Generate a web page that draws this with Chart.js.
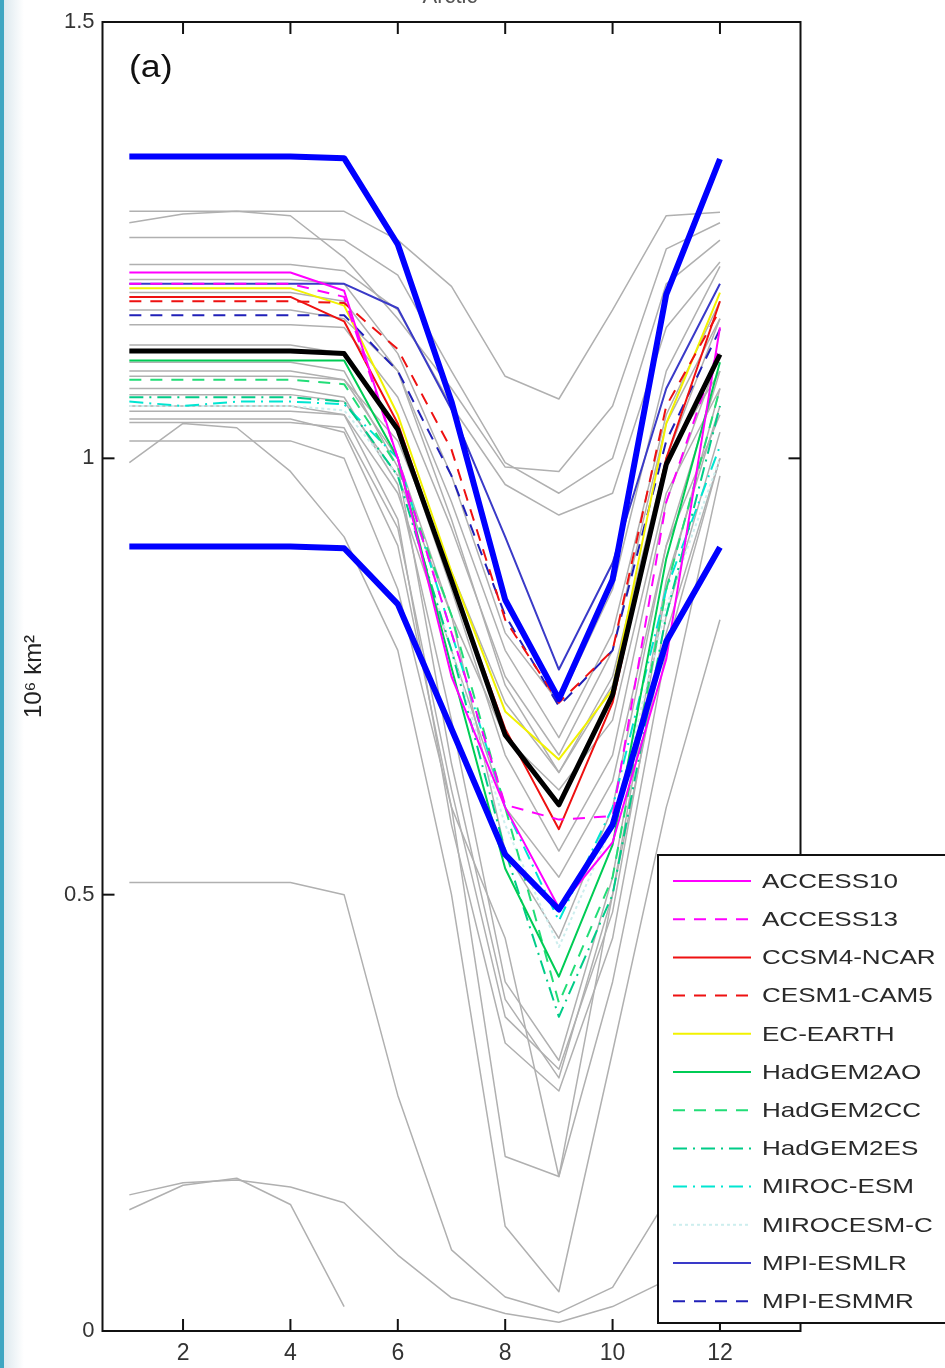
<!DOCTYPE html>
<html><head><meta charset="utf-8">
<script src="https://cdn.jsdelivr.net/npm/chart.js@4.4.1/dist/chart.umd.min.js"></script>
<style>
html,body{margin:0;padding:0;background:#fff;}
#wrap{position:relative;width:945px;height:1368px;overflow:hidden;background:#fff;}
#shade{position:absolute;left:4px;top:0;width:20px;height:1368px;background:linear-gradient(to right,#dde9ef,#ffffff);}
#strip{position:absolute;left:0;top:0;width:4px;height:1368px;background:#3fa6c2;}
canvas{position:absolute;left:0;top:0;}
</style></head><body>
<div id="wrap"><div id="shade"></div><canvas id="c" width="945" height="1368"></canvas><div id="strip"></div></div>
<script>
// ---------- DATA ----------
const months = [1,2,3,4,5,6,7,8,9,10,11,12];
const xTickValues = [2,4,6,8,10,12];
const yTickValues = [0,0.5,1,1.5];
const yTickLabels = ['0','0.5','1','1.5'];

const modelNames = ['ACCESS10','ACCESS13','CCSM4-NCAR','CESM1-CAM5','EC-EARTH','HadGEM2AO',
  'HadGEM2CC','HadGEM2ES','MIROC-ESM','MIROCESM-C','MPI-ESMLR','MPI-ESMMR'];

const access10  = [1.213,1.213,1.213,1.213,1.192,1.00,0.75,0.60,0.485,0.56,0.77,1.15];
const access13  = [1.200,1.200,1.200,1.200,1.185,1.00,0.80,0.603,0.586,0.59,0.95,1.13];
const ccsm4     = [1.185,1.185,1.185,1.185,1.157,1.04,0.86,0.69,0.575,0.72,1.00,1.18];
const cesm1     = [1.180,1.180,1.180,1.180,1.178,1.125,1.01,0.815,0.72,0.78,1.06,1.17];
const ecEarth   = [1.195,1.195,1.195,1.195,1.175,1.05,0.87,0.71,0.655,0.735,1.04,1.19];
const hadgemAO  = [1.112,1.112,1.112,1.112,1.112,1.00,0.76,0.53,0.406,0.557,0.885,1.11];
const hadgemCC  = [1.090,1.090,1.090,1.090,1.085,0.99,0.82,0.60,0.376,0.52,0.85,1.08];
const hadgemES  = [1.070,1.070,1.070,1.070,1.065,0.98,0.78,0.55,0.36,0.50,0.82,1.06];
const mirocEsm  = [1.065,1.060,1.065,1.065,1.062,1.00,0.80,0.60,0.47,0.60,0.85,1.014];
const mirocEsmC = [1.060,1.060,1.060,1.060,1.055,0.98,0.78,0.58,0.44,0.58,0.83,1.00];
const mpiLR     = [1.200,1.200,1.200,1.200,1.200,1.172,1.056,0.91,0.758,0.88,1.08,1.20];
const mpiMR     = [1.164,1.164,1.164,1.164,1.164,1.10,0.98,0.82,0.716,0.78,1.02,1.148];

const ensembleMean = [1.123,1.123,1.123,1.123,1.12,1.033,0.86,0.683,0.603,0.729,0.993,1.119];
const meanPlusStd  = [1.346,1.346,1.346,1.346,1.344,1.245,1.065,0.838,0.724,0.861,1.188,1.343];
const meanMinusStd = [0.899,0.899,0.899,0.899,0.897,0.833,0.69,0.546,0.483,0.58,0.79,0.898];

const gray01 = [1.283,1.283,1.283,1.283,1.283,1.25,1.197,1.094,1.068,1.17,1.278,1.282];
const gray02 = [1.27,1.28,1.283,1.278,1.23,1.16,1.08,0.99,0.985,1.06,1.24,1.27];
const gray03 = [1.253,1.253,1.253,1.253,1.25,1.21,1.10,0.995,0.96,1.00,1.20,1.25];
const gray04 = [1.222,1.222,1.222,1.222,1.215,1.17,1.06,0.97,0.935,0.96,1.15,1.225];
const gray05 = [1.205,1.205,1.205,1.205,1.20,1.12,0.98,0.80,0.72,0.85,1.10,1.22];
const gray06 = [1.153,1.153,1.153,1.153,1.15,1.07,0.92,0.75,0.66,0.78,1.04,1.16];
const gray07 = [1.094,1.094,1.094,1.094,1.09,1.02,0.87,0.72,0.64,0.74,1.00,1.10];
const gray08 = [1.073,1.073,1.073,1.073,1.065,0.98,0.82,0.68,0.62,0.70,0.96,1.08];
const gray09 = [1.054,1.054,1.054,1.054,1.05,0.96,0.78,0.60,0.52,0.63,0.90,1.05];
const gray10 = [1.13,1.13,1.13,1.13,1.12,1.03,0.85,0.66,0.55,0.66,0.95,1.12];
const gray11 = [0.995,1.04,1.035,0.985,0.91,0.78,0.50,0.12,0.045,0.32,0.60,0.815];
const gray12 = [0.514,0.514,0.514,0.514,0.50,0.27,0.093,0.039,0.021,0.05,0.15,0.30];
const gray13 = [0.156,0.17,0.173,0.165,0.147,0.087,0.038,0.02,0.01,0.028,0.058,0.10];
const gray14 = [0.139,0.167,0.175,0.145,0.028,null,null,null,null,null,null,null];
const gray15 = [1.041,1.041,1.041,1.041,1.035,0.92,0.62,0.36,0.30,0.48,0.82,1.03];
const gray16 = [1.11,1.11,1.11,1.11,1.10,0.99,0.65,0.38,0.29,0.50,0.85,1.08];
const gray17 = [1.06,1.06,1.06,1.06,1.05,0.93,0.58,0.33,0.275,0.45,0.78,1.00];
const gray18 = [1.045,1.045,1.045,1.045,1.03,0.90,0.60,0.20,0.177,0.40,0.70,0.98];
const gray19 = [1.02,1.02,1.02,1.02,1.00,0.85,0.60,0.45,0.177,0.50,0.80,1.00];
const gray20 = [1.19,1.19,1.19,1.19,1.18,1.10,0.93,0.74,0.64,0.75,1.00,1.16];
const gray21 = [1.17,1.17,1.17,1.17,1.16,1.10,0.95,0.78,0.68,0.80,1.05,1.18];
const gray22 = [1.10,1.10,1.10,1.10,1.09,1.00,0.82,0.55,0.45,0.60,0.90,1.10];
const gray23 = [1.08,1.08,1.08,1.08,1.07,0.97,0.70,0.40,0.31,0.52,0.86,1.06];

const modelSeries = [access10,access13,ccsm4,cesm1,ecEarth,hadgemAO,hadgemCC,hadgemES,mirocEsm,mirocEsmC,mpiLR,mpiMR];
const otherSeries = [gray01,gray02,gray03,gray04,gray05,gray06,gray07,gray08,gray09,gray10,gray11,
  gray12,gray13,gray14,gray15,gray16,gray17,gray18,gray19,gray20,gray21,gray22,gray23];

// ---------- STYLES ----------
const modelStyles = [
  {color:'#ff00ff', dash:[]},
  {color:'#ff00ff', dash:[12,9]},
  {color:'#ee1111', dash:[]},
  {color:'#ee1111', dash:[12,9]},
  {color:'#f2f200', dash:[]},
  {color:'#00cc55', dash:[]},
  {color:'#22dd77', dash:[12,9]},
  {color:'#00cc88', dash:[14,6,2,6]},
  {color:'#00e6d2', dash:[14,6,2,6]},
  {color:'#cdeeee', dash:[3,3]},
  {color:'#3a3ac8', dash:[]},
  {color:'#2020b8', dash:[12,9]}
];

const toXY = vals => months.map((m,i)=>({x:m, y:vals[i]}));
const common = {pointRadius:0, tension:0, fill:false, borderJoinStyle:'round', spanGaps:false};
const datasets = [];
datasets.push(Object.assign({label:'Mean + std', data:toXY(meanPlusStd), borderColor:'#0000ff', borderWidth:6}, common));
datasets.push(Object.assign({label:'Mean - std', data:toXY(meanMinusStd), borderColor:'#0000ff', borderWidth:6}, common));
datasets.push(Object.assign({label:'Multi-model mean', data:toXY(ensembleMean), borderColor:'#000000', borderWidth:5}, common));
modelSeries.forEach((vals,i)=>datasets.push(Object.assign({label:modelNames[i], data:toXY(vals),
  borderColor:modelStyles[i].color, borderDash:modelStyles[i].dash, borderWidth:2, inLegend:true}, common)));
otherSeries.forEach((vals,i)=>datasets.push(Object.assign({label:'Other model '+(i+1), data:toXY(vals),
  borderColor:'#b0b0b0', borderWidth:1.5}, common)));

const FONT = "'Liberation Sans', Arial, Helvetica, sans-serif";

const framePlugin = {
  id:'frame',
  afterDraw(chart){
    const {ctx, chartArea:a, scales:{x,y}} = chart;
    ctx.save();
    // frame
    ctx.strokeStyle='#111'; ctx.lineWidth=2; ctx.setLineDash([]);
    ctx.strokeRect(a.left,a.top,a.right-a.left,a.bottom-a.top);
    const seg=(x1,y1,x2,y2)=>{ctx.beginPath();ctx.moveTo(x1,y1);ctx.lineTo(x2,y2);ctx.stroke();};
    xTickValues.forEach(v=>{const px=x.getPixelForValue(v); seg(px,a.bottom,px,a.bottom-12); seg(px,a.top,px,a.top+12);});
    yTickValues.forEach(v=>{const py=y.getPixelForValue(v); seg(a.left,py,a.left+12,py); seg(a.right,py,a.right-12,py);});
    // panel label
    ctx.fillStyle='#111'; ctx.font='31px '+FONT; ctx.textBaseline='middle'; ctx.textAlign='left';
    ctx.save(); ctx.translate(129,68); ctx.scale(1.15,1); ctx.fillText('(a)',0,0); ctx.restore();
    // cropped title
    ctx.fillStyle='#555'; ctx.font='22px '+FONT; ctx.textBaseline='alphabetic'; ctx.textAlign='center';
    ctx.fillText('Arctic',450,3);
    // legend
    const lx=658, ly=855, lw=300, lh=468;
    ctx.fillStyle='#ffffff'; ctx.fillRect(lx,ly,lw,lh);
    ctx.strokeStyle='#111'; ctx.lineWidth=2; ctx.strokeRect(lx,ly,lw,lh);
    const items = chart.data.datasets.filter(d=>d.inLegend);
    items.forEach((d,i)=>{
      const yy = 881 + i*38.2;
      ctx.strokeStyle=d.borderColor; ctx.lineWidth=2; ctx.setLineDash(d.borderDash||[]);
      seg(673,yy,751,yy);
      ctx.setLineDash([]);
      ctx.fillStyle='#2a2a2a'; ctx.font='21px '+FONT; ctx.textAlign='left'; ctx.textBaseline='middle';
      ctx.save(); ctx.translate(762,yy); ctx.scale(1.24,1); ctx.fillText(d.label,0,1); ctx.restore();
    });
    ctx.restore();
  }
};

new Chart(document.getElementById('c'), {
  type:'line',
  data:{datasets},
  options:{
    responsive:false, animation:false, events:[],
    layout:{padding:{top:22,right:144.5,left:0,bottom:0}},
    plugins:{legend:{display:false}, tooltip:{enabled:false}, title:{display:false}},
    scales:{
      x:{type:'linear', min:0.5, max:13.5,
        afterBuildTicks:s=>{s.ticks=xTickValues.map(v=>({value:v}));},
        afterFit:s=>{s.height=37;},
        grid:{display:false, drawTicks:false}, border:{display:false},
        ticks:{padding:9, color:'#333', font:{size:23, family:FONT}, callback:v=>String(v), maxRotation:0}
      },
      y:{type:'linear', min:0, max:1.5,
        afterBuildTicks:s=>{s.ticks=yTickValues.map(v=>({value:v}));},
        afterFit:s=>{s.width=102.5;},
        grid:{display:false, drawTicks:false}, border:{display:false},
        ticks:{padding:8, color:'#333', font:{size:22, family:FONT},
          callback:v=>yTickLabels[yTickValues.indexOf(v)]},
        title:{display:true, text:'10⁶ km²', color:'#222', font:{size:24, family:FONT}, padding:{top:20,bottom:0}}
      }
    }
  },
  plugins:[framePlugin]
});
</script>
</body></html>
